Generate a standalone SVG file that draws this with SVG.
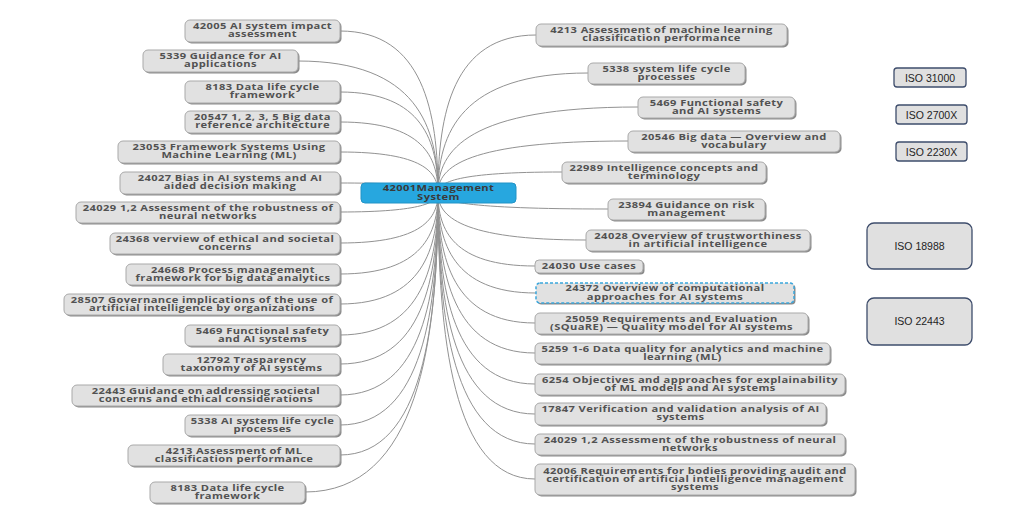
<svg xmlns="http://www.w3.org/2000/svg" width="1024" height="519" viewBox="0 0 1024 519">
<style>
.sh{fill:#8c8c8c}
.bx{fill:#e1e1e1;stroke:#a9a9a9;stroke-width:1}
.dash{fill:#e1e1e1;stroke:#3aa6dc;stroke-width:1.5;stroke-dasharray:3 2}
.t{font-family:"Open Sans","DejaVu Sans",sans-serif;font-weight:bold;font-size:8.2px;fill:#525252;text-anchor:middle;letter-spacing:0.3px}
.c{fill:none;stroke:#929292;stroke-width:1}
.ctr{fill:#27a7df;stroke:#2393c6;stroke-width:1}
.ct{font-family:"Open Sans","DejaVu Sans",sans-serif;font-weight:bold;font-size:8.2px;fill:#3a3a3a;text-anchor:middle;letter-spacing:0.3px}
.iso{fill:#e0e0e0;stroke:#3e4d6c;stroke-width:1.3}
.it{font-family:"Liberation Sans",Arial,sans-serif;font-size:10.5px;fill:#1e1e1e;text-anchor:middle}
</style>
<rect width="1024" height="519" fill="#ffffff"/>
<g id="connectors">
<path class="c" d="M340,31 C423,31 438,112 438,193"/>
<path class="c" d="M298,61 C417,61 438,127 438,193"/>
<path class="c" d="M340,92 C423,92 438,142 438,193"/>
<path class="c" d="M340,122 C423,122 438,157 438,193"/>
<path class="c" d="M340,152 C423,152 438,172 438,193"/>
<path class="c" d="M340,183 C423,183 438,188 438,193"/>
<path class="c" d="M340,212 C423,212 438,202 438,193"/>
<path class="c" d="M340,243 C423,243 438,218 438,193"/>
<path class="c" d="M340,274 C423,274 438,233 438,193"/>
<path class="c" d="M340,304 C423,304 438,248 438,193"/>
<path class="c" d="M340,335 C423,335 438,264 438,193"/>
<path class="c" d="M340,364 C423,364 438,278 438,193"/>
<path class="c" d="M340,395 C423,395 438,294 438,193"/>
<path class="c" d="M340,425 C423,425 438,309 438,193"/>
<path class="c" d="M340,455 C423,455 438,324 438,193"/>
<path class="c" d="M305,492 C418,492 438,342 438,193"/>
<path class="c" d="M536,35 C453,35 438,114 438,193"/>
<path class="c" d="M588,73 C461,73 438,133 438,193"/>
<path class="c" d="M638,107 C468,107 438,150 438,193"/>
<path class="c" d="M628,141 C466,141 438,167 438,193"/>
<path class="c" d="M562,172 C457,172 438,182 438,193"/>
<path class="c" d="M608,209 C463,209 438,201 438,193"/>
<path class="c" d="M586,240 C460,240 438,216 438,193"/>
<path class="c" d="M535,266 C453,266 438,230 438,193"/>
<path class="c" d="M536,293 C453,293 438,243 438,193"/>
<path class="c" d="M535,323 C453,323 438,258 438,193"/>
<path class="c" d="M535,353 C453,353 438,273 438,193"/>
<path class="c" d="M535,384 C453,384 438,289 438,193"/>
<path class="c" d="M535,414 C453,414 438,304 438,193"/>
<path class="c" d="M535,444 C453,444 438,319 438,193"/>
<path class="c" d="M535,479 C453,479 438,336 438,193"/>
</g>
<g id="center">
<rect class="ctr" x="361" y="183" width="155" height="20" rx="4"/>
<g transform="translate(438.5 0) scale(1.36 1)"><text class="ct" x="0" y="191.5">42001Management</text><text class="ct" x="0" y="199.6">System</text></g>
</g>
<g id="L1"><rect class="sh" x="186.5" y="21.5" width="155" height="22" rx="5"/><rect class="bx" x="185" y="20" width="155" height="22" rx="5"/><g transform="translate(262.5 0) scale(1.36 1)"><text class="t" x="0" y="29.3">42005 AI system impact</text><text class="t" x="0" y="37.5">assessment</text></g></g>
<g id="L2"><rect class="sh" x="144.5" y="51.5" width="155" height="22" rx="5"/><rect class="bx" x="143" y="50" width="155" height="22" rx="5"/><g transform="translate(220.5 0) scale(1.36 1)"><text class="t" x="0" y="59.3">5339 Guidance for AI</text><text class="t" x="0" y="67.5">applications</text></g></g>
<g id="L3"><rect class="sh" x="186.5" y="82.5" width="155" height="22" rx="5"/><rect class="bx" x="185" y="81" width="155" height="22" rx="5"/><g transform="translate(262.5 0) scale(1.36 1)"><text class="t" x="0" y="90.3">8183 Data life cycle</text><text class="t" x="0" y="98.5">framework</text></g></g>
<g id="L4"><rect class="sh" x="186.5" y="112.5" width="155" height="22" rx="5"/><rect class="bx" x="185" y="111" width="155" height="22" rx="5"/><g transform="translate(262.5 0) scale(1.36 1)"><text class="t" x="0" y="120.3">20547 1, 2, 3, 5 Big data</text><text class="t" x="0" y="128.5">reference architecture</text></g></g>
<g id="L5"><rect class="sh" x="119.5" y="142.5" width="222" height="22" rx="5"/><rect class="bx" x="118" y="141" width="222" height="22" rx="5"/><g transform="translate(229 0) scale(1.36 1)"><text class="t" x="0" y="150.3">23053 Framework Systems Using</text><text class="t" x="0" y="158.5">Machine Learning (ML)</text></g></g>
<g id="L6"><rect class="sh" x="121.5" y="173.5" width="220" height="22" rx="5"/><rect class="bx" x="120" y="172" width="220" height="22" rx="5"/><g transform="translate(230 0) scale(1.36 1)"><text class="t" x="0" y="181.3">24027 Bias in AI systems and AI</text><text class="t" x="0" y="189.5">aided decision making</text></g></g>
<g id="L7"><rect class="sh" x="77.5" y="203.5" width="264" height="21" rx="5"/><rect class="bx" x="76" y="202" width="264" height="21" rx="5"/><g transform="translate(208 0) scale(1.36 1)"><text class="t" x="0" y="211">24029 1,2 Assessment of the robustness of</text><text class="t" x="0" y="219.2">neural networks</text></g></g>
<g id="L8"><rect class="sh" x="111.5" y="234.5" width="230" height="21" rx="5"/><rect class="bx" x="110" y="233" width="230" height="21" rx="5"/><g transform="translate(225 0) scale(1.36 1)"><text class="t" x="0" y="242">24368 verview of ethical and societal</text><text class="t" x="0" y="250.2">concerns</text></g></g>
<g id="L9"><rect class="sh" x="127.5" y="265.5" width="214" height="21" rx="5"/><rect class="bx" x="126" y="264" width="214" height="21" rx="5"/><g transform="translate(233 0) scale(1.36 1)"><text class="t" x="0" y="273">24668 Process management</text><text class="t" x="0" y="281.2">framework for big data analytics</text></g></g>
<g id="L10"><rect class="sh" x="65.5" y="295.5" width="276" height="21" rx="5"/><rect class="bx" x="64" y="294" width="276" height="21" rx="5"/><g transform="translate(202 0) scale(1.36 1)"><text class="t" x="0" y="303">28507 Governance implications of the use of</text><text class="t" x="0" y="311.2">artificial intelligence by organizations</text></g></g>
<g id="L11"><rect class="sh" x="186.5" y="326.5" width="155" height="21" rx="5"/><rect class="bx" x="185" y="325" width="155" height="21" rx="5"/><g transform="translate(262.5 0) scale(1.36 1)"><text class="t" x="0" y="334">5469 Functional safety</text><text class="t" x="0" y="342.2">and AI systems</text></g></g>
<g id="L12"><rect class="sh" x="164.5" y="355.5" width="177" height="21" rx="5"/><rect class="bx" x="163" y="354" width="177" height="21" rx="5"/><g transform="translate(251.5 0) scale(1.36 1)"><text class="t" x="0" y="363">12792 Trasparency</text><text class="t" x="0" y="371.2">taxonomy of AI systems</text></g></g>
<g id="L13"><rect class="sh" x="73.5" y="386.5" width="268" height="21" rx="5"/><rect class="bx" x="72" y="385" width="268" height="21" rx="5"/><g transform="translate(206 0) scale(1.36 1)"><text class="t" x="0" y="394">22443 Guidance on addressing societal</text><text class="t" x="0" y="402.2">concerns and ethical considerations</text></g></g>
<g id="L14"><rect class="sh" x="186.5" y="416.5" width="155" height="21" rx="5"/><rect class="bx" x="185" y="415" width="155" height="21" rx="5"/><g transform="translate(262.5 0) scale(1.36 1)"><text class="t" x="0" y="424">5338 AI system life cycle</text><text class="t" x="0" y="432.2">processes</text></g></g>
<g id="L15"><rect class="sh" x="129.5" y="446.5" width="212" height="21" rx="5"/><rect class="bx" x="128" y="445" width="212" height="21" rx="5"/><g transform="translate(234 0) scale(1.36 1)"><text class="t" x="0" y="454">4213 Assessment of ML</text><text class="t" x="0" y="462.2">classification performance</text></g></g>
<g id="L16"><rect class="sh" x="151.5" y="483.5" width="155" height="21" rx="5"/><rect class="bx" x="150" y="482" width="155" height="21" rx="5"/><g transform="translate(227.5 0) scale(1.36 1)"><text class="t" x="0" y="491">8183 Data life cycle</text><text class="t" x="0" y="499.2">framework</text></g></g>
<g id="R1"><rect class="sh" x="537.5" y="25.5" width="251" height="22" rx="5"/><rect class="bx" x="536" y="24" width="251" height="22" rx="5"/><g transform="translate(661.5 0) scale(1.36 1)"><text class="t" x="0" y="33.3">4213 Assessment of machine learning</text><text class="t" x="0" y="41.5">classification performance</text></g></g>
<g id="R2"><rect class="sh" x="589.5" y="64.5" width="157" height="21" rx="5"/><rect class="bx" x="588" y="63" width="157" height="21" rx="5"/><g transform="translate(666.5 0) scale(1.36 1)"><text class="t" x="0" y="72">5338 system life cycle</text><text class="t" x="0" y="80.2">processes</text></g></g>
<g id="R3"><rect class="sh" x="639.5" y="98.5" width="157" height="21" rx="5"/><rect class="bx" x="638" y="97" width="157" height="21" rx="5"/><g transform="translate(716.5 0) scale(1.36 1)"><text class="t" x="0" y="106">5469 Functional safety</text><text class="t" x="0" y="114.2">and AI systems</text></g></g>
<g id="R4"><rect class="sh" x="629.5" y="132.5" width="212" height="21" rx="5"/><rect class="bx" x="628" y="131" width="212" height="21" rx="5"/><g transform="translate(734 0) scale(1.36 1)"><text class="t" x="0" y="140">20546 Big data — Overview and</text><text class="t" x="0" y="148.2">vocabulary</text></g></g>
<g id="R5"><rect class="sh" x="563.5" y="163.5" width="204" height="21" rx="5"/><rect class="bx" x="562" y="162" width="204" height="21" rx="5"/><g transform="translate(664 0) scale(1.36 1)"><text class="t" x="0" y="171">22989 Intelligence concepts and</text><text class="t" x="0" y="179.2">terminology</text></g></g>
<g id="R6"><rect class="sh" x="609.5" y="200.5" width="157" height="21" rx="5"/><rect class="bx" x="608" y="199" width="157" height="21" rx="5"/><g transform="translate(686.5 0) scale(1.36 1)"><text class="t" x="0" y="208">23894 Guidance on risk</text><text class="t" x="0" y="216.2">management</text></g></g>
<g id="R7"><rect class="sh" x="587.5" y="231.5" width="224" height="21" rx="5"/><rect class="bx" x="586" y="230" width="224" height="21" rx="5"/><g transform="translate(698 0) scale(1.36 1)"><text class="t" x="0" y="239">24028 Overview of trustworthiness</text><text class="t" x="0" y="247.2">in artificial intelligence</text></g></g>
<g id="R8"><rect class="sh" x="536.5" y="261.5" width="108" height="13" rx="4"/><rect class="bx" x="535" y="260" width="108" height="13" rx="4"/><g transform="translate(589 0) scale(1.36 1)"><text class="t" x="0" y="269.5">24030 Use cases</text></g></g>
<g id="R9"><rect class="sh" x="537.5" y="284.5" width="258" height="20" rx="4"/><rect class="dash" x="536" y="283" width="258" height="20" rx="4"/><g transform="translate(665 0) scale(1.36 1)"><text class="t" x="0" y="291.5">24372 Overview of computational</text><text class="t" x="0" y="299.7">approaches for AI systems</text></g></g>
<g id="R10"><rect class="sh" x="536.5" y="314.5" width="273" height="21" rx="5"/><rect class="bx" x="535" y="313" width="273" height="21" rx="5"/><g transform="translate(671.5 0) scale(1.36 1)"><text class="t" x="0" y="322">25059 Requirements and Evaluation</text><text class="t" x="0" y="330.2">(SQuaRE) — Quality model for AI systems</text></g></g>
<g id="R11"><rect class="sh" x="536.5" y="344.5" width="295" height="21" rx="5"/><rect class="bx" x="535" y="343" width="295" height="21" rx="5"/><g transform="translate(682.5 0) scale(1.36 1)"><text class="t" x="0" y="352">5259 1-6 Data quality for analytics and machine</text><text class="t" x="0" y="360.2">learning (ML)</text></g></g>
<g id="R12"><rect class="sh" x="536.5" y="375.5" width="310" height="21" rx="5"/><rect class="bx" x="535" y="374" width="310" height="21" rx="5"/><g transform="translate(690 0) scale(1.36 1)"><text class="t" x="0" y="383">6254 Objectives and approaches for explainability</text><text class="t" x="0" y="391.2">of ML models and AI systems</text></g></g>
<g id="R13"><rect class="sh" x="536.5" y="404.5" width="291" height="22" rx="5"/><rect class="bx" x="535" y="403" width="291" height="22" rx="5"/><g transform="translate(680.5 0) scale(1.36 1)"><text class="t" x="0" y="412.3">17847 Verification and validation analysis of AI</text><text class="t" x="0" y="420.5">systems</text></g></g>
<g id="R14"><rect class="sh" x="536.5" y="435.5" width="310" height="21" rx="5"/><rect class="bx" x="535" y="434" width="310" height="21" rx="5"/><g transform="translate(690 0) scale(1.36 1)"><text class="t" x="0" y="443">24029 1,2 Assessment of the robustness of neural</text><text class="t" x="0" y="451.2">networks</text></g></g>
<g id="R15"><rect class="sh" x="536.5" y="465.5" width="320" height="31" rx="5"/><rect class="bx" x="535" y="464" width="320" height="31" rx="5"/><g transform="translate(695 0) scale(1.36 1)"><text class="t" x="0" y="474.5">42006 Requirements for bodies providing audit and</text><text class="t" x="0" y="482.5">certification of artificial intelligence management</text><text class="t" x="0" y="490.5">systems</text></g></g>
<g id="ISO31000"><rect class="iso" x="894" y="68" width="72" height="19" rx="3"/><text class="it" x="930" y="81.5">ISO 31000</text></g>
<g id="ISO2700X"><rect class="iso" x="896" y="105" width="71" height="19" rx="3"/><text class="it" x="931.5" y="118.5">ISO 2700X</text></g>
<g id="ISO2230X"><rect class="iso" x="896" y="142" width="71" height="19" rx="3"/><text class="it" x="931.5" y="155.5">ISO 2230X</text></g>
<g id="ISO18988"><rect class="iso" x="867" y="223" width="105" height="46" rx="7"/><text class="it" x="919.5" y="249.5">ISO 18988</text></g>
<g id="ISO22443"><rect class="iso" x="867" y="298" width="105" height="47" rx="7"/><text class="it" x="919.5" y="325">ISO 22443</text></g>
</svg>
